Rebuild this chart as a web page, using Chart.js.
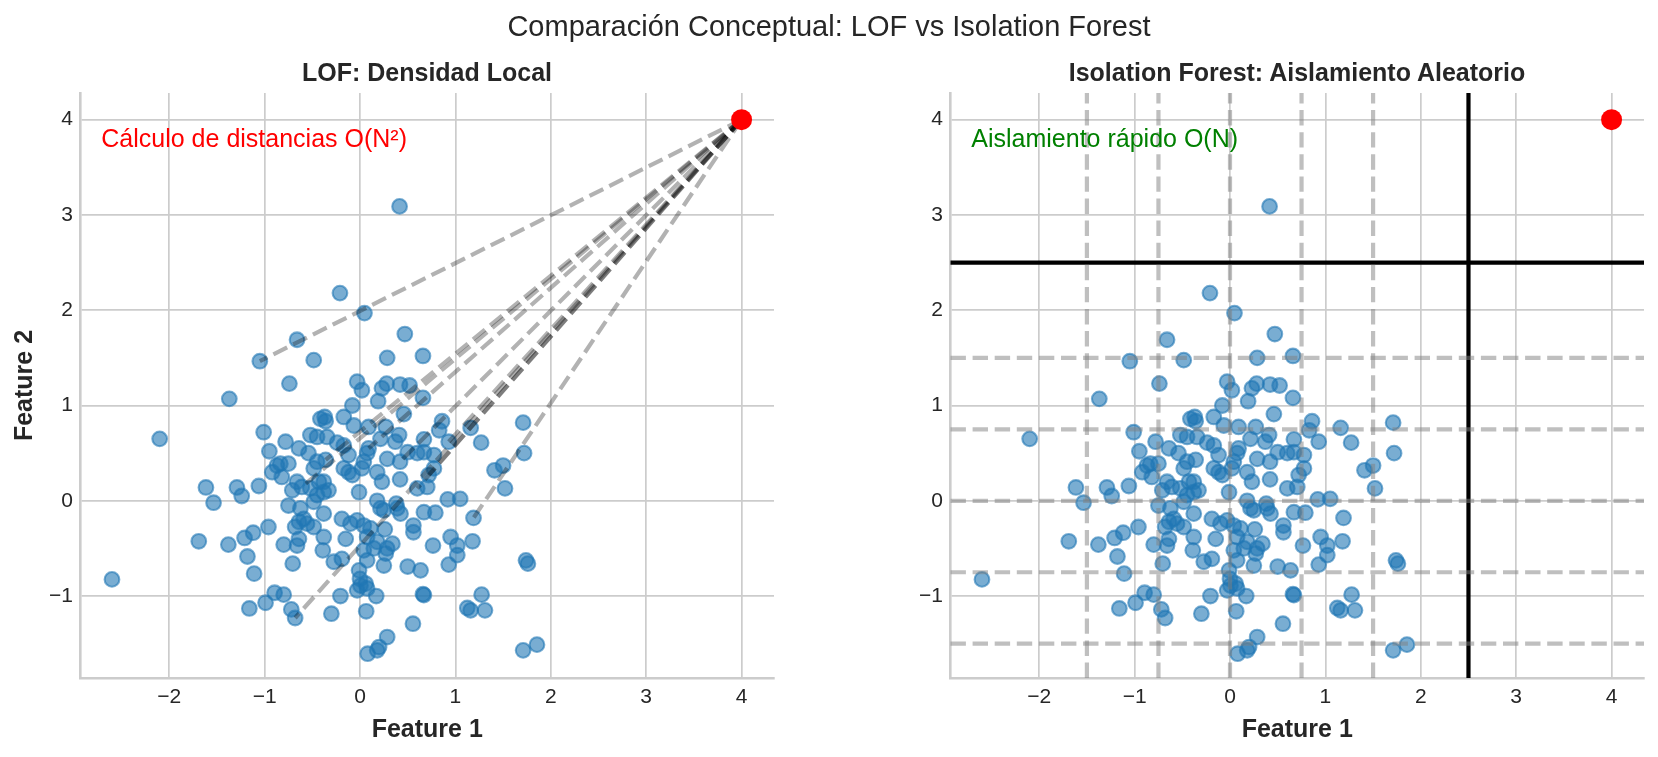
<!DOCTYPE html>
<html>
<head>
<meta charset="utf-8">
<script src="https://cdn.jsdelivr.net/npm/chart.js@4.4.0/dist/chart.umd.min.js"></script>
<style>
body{margin:0;background:#fff;width:1658px;height:757px;position:relative;overflow:hidden;font-family:'Liberation Sans',Arial,sans-serif;color:#262626}
canvas{position:absolute;top:0}
#lof{left:0}
#iso{left:829px}
.t{position:absolute;white-space:nowrap;transform:translate(-50%,-50%);line-height:1}
</style>
</head>
<body>
<canvas id="lof" width="829" height="757"></canvas>
<canvas id="iso" width="829" height="757"></canvas>
<div class="t" style="left:829px;top:26px;font-size:29px">Comparación Conceptual: LOF vs Isolation Forest</div>
<div class="t" style="left:427px;top:72px;font-size:25px;font-weight:bold">LOF: Densidad Local</div>
<div class="t" style="left:1297px;top:72px;font-size:25px;font-weight:bold">Isolation Forest: Aislamiento Aleatorio</div>
<script>
/* ===== data ===== */
const featureX = [
  -0.66,0.415,-0.21,0.047,0.47,-1.05,-0.485,-0.74,-1.37,-2.10,
  -1.01,-0.78,-0.95,-0.52,-0.45,-0.415,-0.64,-0.54,-0.835,-0.75,
  -0.87,-0.92,-0.82,-0.45,-0.66,-0.61,-0.71,-0.52,-0.43,-1.615,
  -1.29,-1.06,-1.535,-1.24,-0.75,-0.625,-0.485,-0.64,-0.555,-0.68,
  -0.485,-0.59,-0.96,-1.12,-1.21,-1.69,-1.38,-0.80,-0.66,-0.64,
  -0.39,-1.18,-0.705,-1.11,-2.60,-0.895,-0.80,-0.99,-1.16,-0.72,
  -0.68,0.285,0.66,-0.03,0.02,0.28,0.23,0.42,0.52,0.66,
  0.19,-0.08,0.46,-0.37,-0.36,-0.17,-0.065,0.09,0.27,0.41,
  0.215,0.37,-0.345,-0.24,-0.17,0.86,0.83,0.67,0.93,1.16,
  1.27,1.71,1.72,1.50,1.41,1.52,0.09,0.285,-0.12,0.075,
  0.42,0.50,0.60,0.67,0.775,0.775,0.72,0.705,0.60,0.42,
  0.23,0.18,0.04,-0.12,-0.17,-0.08,-0.38,-0.36,-0.01,-0.38,
  -0.45,0.92,1.05,0.18,0.38,0.67,0.79,1.19,0.39,0.425,
  0.215,-0.38,-0.19,-0.03,0.04,-0.10,0.26,0.56,0.56,0.95,
  1.18,1.02,1.02,0.93,0.765,-0.38,-0.15,0.075,0.18,0.34,
  0.04,0.145,0.27,0.285,-0.275,-0.19,0.075,0.25,0.50,0.635,
  -0.01,0.0,0.005,0.06,-0.03,0.075,0.17,-0.205,0.66,0.67,
  1.125,1.16,1.275,1.31,-0.30,0.065,0.555,0.285,0.20,0.18,
  0.08,1.74,1.76,1.71,1.855,-0.485,-0.33,0.02,0.11,0.25
];
const featureY = [
  1.69,3.09,2.18,1.97,1.75,1.465,1.476,1.23,1.07,0.65,
  0.72,0.62,0.52,0.69,0.67,0.86,0.55,0.50,0.39,0.39,
  0.37,0.30,0.25,0.41,0.20,0.145,0.11,0.13,0.20,0.14,
  0.14,0.155,-0.02,0.05,-0.05,-0.08,-0.01,-0.22,-0.24,-0.275,
  -0.275,-0.19,-0.275,-0.335,-0.39,-0.425,-0.46,-0.46,-0.47,-0.40,
  -0.52,-0.585,-0.66,-0.765,-0.825,-0.965,-0.985,-1.07,-1.13,-1.14,
  -1.23,1.50,1.52,1.25,1.16,1.23,1.18,1.22,1.21,1.08,
  1.045,1.00,0.91,0.88,0.835,0.88,0.79,0.775,0.775,0.69,
  0.65,0.62,0.67,0.61,0.58,0.835,0.74,0.645,0.62,0.765,
  0.61,0.82,0.50,0.37,0.32,0.13,0.55,0.44,0.48,0.50,
  0.41,0.51,0.50,0.51,0.48,0.34,0.27,0.145,0.13,0.225,
  0.20,0.30,0.41,0.30,0.34,0.27,0.20,0.43,0.09,0.09,
  0.06,0.015,0.02,0.0,-0.03,-0.12,-0.125,-0.18,-0.08,-0.135,
  -0.08,-0.135,-0.19,-0.205,-0.26,-0.24,-0.30,-0.26,-0.33,-0.38,
  -0.425,-0.47,-0.57,-0.67,-0.47,-0.38,-0.40,-0.38,-0.43,-0.45,
  -0.52,-0.50,-0.555,-0.50,-0.64,-0.61,-0.625,-0.68,-0.69,-0.73,
  -0.73,-0.82,-0.89,-0.87,-0.94,-0.92,-1.0,-1.0,-0.98,-0.99,
  -1.125,-1.15,-0.985,-1.15,-1.185,-1.16,-1.29,-1.43,-1.535,-1.57,
  -1.605,-0.625,-0.66,-1.57,-1.51,0.34,0.11,0.34,-0.29,-0.10
];
const outlier = [4, 4];
const lofLinks = [5, 60, 127, 25, 100, 108, 106, 88, 96, 117];   // indices the outlier is joined to
const isoSplitsX = [-1.5, -0.75, 0, 0.75, 1.5];
const isoSplitsY = [-1.5, -0.75, 0, 0.75, 1.5];
const isoCutX = 2.5, isoCutY = 2.5;
const xTicks = [-2, -1, 0, 1, 2, 3, 4];
const yTicks = [-1, 0, 1, 2, 3, 4];
const xRange = [-2.93, 4.34];
const yRange = [-1.86, 4.28];

/* ===== shared look ===== */
Chart.defaults.font.family = "'Liberation Sans', Arial, sans-serif";
Chart.defaults.color = '#262626';
const INK = '#262626', GRID = '#cccccc';
const BLUE = 'rgba(31,119,180,0.6)';
const fmt = v => v < 0 ? '\u2212' + Math.abs(v) : String(v);
const points = featureX.map((x, i) => ({x, y: featureY[i]}));

const cornerNote = {
  id: 'cornerNote',
  afterDatasetsDraw(chart, args, o){
    const {ctx, chartArea: a} = chart;
    ctx.save();
    ctx.font = '25px ' + Chart.defaults.font.family;
    ctx.fillStyle = o.color; ctx.textAlign = 'left'; ctx.textBaseline = 'middle';
    ctx.fillText(o.text, a.left + 0.03 * (a.right - a.left), a.top + 0.081 * (a.bottom - a.top));
    ctx.restore();
  }
};

function axes(yWidth, yTitle){
  return {
    x: { type: 'linear', min: xRange[0], max: xRange[1],
      afterBuildTicks: s => { s.ticks = xTicks.map(v => ({value: v})); },
      afterFit: s => { s.height = 79; },
      ticks: { callback: fmt, padding: 7, color: INK, font: {size: 21}, autoSkip: false, maxRotation: 0 },
      grid: { color: GRID, lineWidth: 1.7, drawTicks: false },
      border: { display: true, color: GRID, width: 2.6 },
      title: { display: true, text: 'Feature 1', color: INK, font: {size: 25, weight: 'bold'}, padding: {top: 0, bottom: 12} } },
    y: { type: 'linear', min: yRange[0], max: yRange[1],
      afterBuildTicks: s => { s.ticks = yTicks.map(v => ({value: v})); },
      afterFit: s => { s.width = yWidth; },
      ticks: { callback: fmt, padding: 7.5, color: INK, font: {size: 21}, autoSkip: false },
      grid: { color: GRID, lineWidth: 1.7, drawTicks: false },
      border: { display: true, color: GRID, width: 2.6 },
      title: { display: yTitle, text: 'Feature 2', color: INK, font: {size: 25, weight: 'bold'}, padding: {top: 10, bottom: 0} } }
  };
}

const seg = (a, b, color, dash, order) => ({
  data: [a, b], showLine: true, pointRadius: 0, borderColor: color, borderWidth: 4.2,
  borderDash: dash, borderCapStyle: 'butt', fill: false, order
});
const outlierSet = { data: [{x: outlier[0], y: outlier[1]}], backgroundColor: '#ff0000', borderWidth: 0, pointRadius: 10.5, order: 0 };
const cloudSet = { data: points, backgroundColor: BLUE, borderColor: BLUE, borderWidth: 2.1, pointRadius: 7.35, order: 3 };

const base = (pad, yWidth, yTitle, note) => ({
  responsive: false, animation: false, clip: false,
  layout: { padding: pad },
  plugins: { legend: {display: false}, tooltip: {enabled: false}, title: {display: false}, cornerNote: note },
  scales: axes(yWidth, yTitle)
});

/* ===== LOF panel ===== */
const lofLines = lofLinks.map(i => seg({x: outlier[0], y: outlier[1]}, points[i], 'rgba(0,0,0,0.3)', [15.4, 6.7], 1));
new Chart(document.getElementById('lof'), {
  type: 'scatter',
  data: { datasets: [outlierSet, ...lofLines, cloudSet] },
  options: base({left: 0, top: 93, right: 55, bottom: 0}, 80.5, true, {text: 'Cálculo de distancias O(N²)', color: '#ff0000'}),
  plugins: [cornerNote]
});

/* ===== Isolation Forest panel ===== */
const gray = 'rgba(128,128,128,0.5)';
const isoLines = [
  ...isoSplitsX.map(v => seg({x: v, y: yRange[0]}, {x: v, y: yRange[1]}, gray, [15.4, 6.7], 1)),
  ...isoSplitsY.map(v => seg({x: xRange[0], y: v}, {x: xRange[1], y: v}, gray, [15.4, 6.7], 1)),
  seg({x: isoCutX, y: yRange[0]}, {x: isoCutX, y: yRange[1]}, '#000000', [], 1),
  seg({x: xRange[0], y: isoCutY}, {x: xRange[1], y: isoCutY}, '#000000', [], 1)
];
new Chart(document.getElementById('iso'), {
  type: 'scatter',
  data: { datasets: [outlierSet, ...isoLines, cloudSet] },
  options: base({left: 0, top: 93, right: 14, bottom: 0}, 121.5, false, {text: 'Aislamiento rápido O(N)', color: '#008000'}),
  plugins: [cornerNote]
});
</script>
</body>
</html>
